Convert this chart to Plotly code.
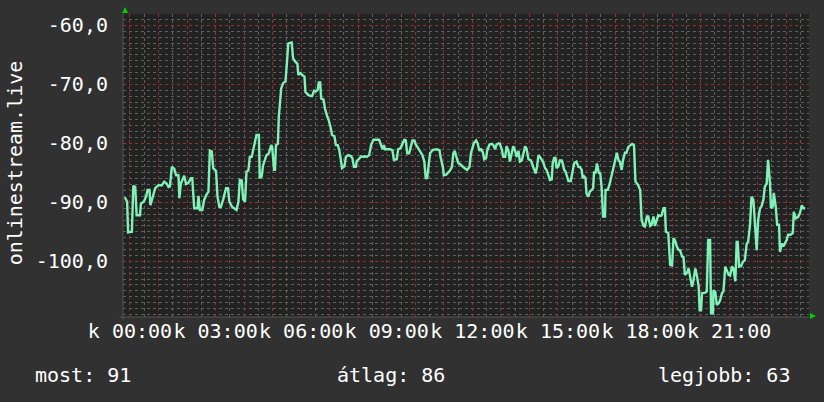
import pandas as pd
import plotly.graph_objects as go

# ---- data: minutes from midnight (Tuesday) and signal values ----
minutes = [-11, -6, -4, 4, 7, 11, 14, 21, 23, 29, 34, 37, 41, 43, 48, 53, 60, 67, 72, 77, 81, 84, 88, 93, 97, 102,
           104, 107, 114, 118, 123, 128, 131, 135, 142, 144, 147, 152, 156, 160, 165, 168, 172, 175, 181, 184, 188,
           191, 196, 202, 206, 209, 215, 221, 224, 228, 231, 235, 238, 242, 245, 249, 252, 256, 261,
           266, 271, 273, 277, 280, 287, 292, 297, 299, 303, 305, 307, 311, 313, 318, 322, 327, 330, 333, 340, 343,
           348, 352, 354, 359, 362, 367, 369, 375, 380, 383, 387, 391, 395, 397, 400, 402, 407, 410, 415, 418, 423,
           425, 430, 433, 437, 440, 444, 446, 451, 454, 459, 465, 468, 471, 475, 477, 482, 486, 491, 494, 498, 503,
           507, 512, 519, 524, 528, 531, 534, 536, 543,
           547, 552, 555, 561, 564, 569, 573, 577, 580, 583, 587, 590, 594, 598, 601, 606, 611, 615, 619, 622, 625,
           628, 631, 637, 641, 646, 651, 653, 658, 660, 665, 669, 673, 677, 680, 683, 687, 690, 695, 700, 705, 709,
           714, 717, 721, 723, 728, 731, 735, 738, 742, 745, 749, 751, 756, 761, 764, 768, 771, 775, 778, 782, 785,
           789, 792, 796, 799, 803, 806, 810, 813, 817, 820, 824, 829,
           831, 834, 838, 843, 848, 853, 856, 859, 862, 866, 869, 873, 876, 880, 883, 887, 889, 892, 895, 897, 901,
           904, 908, 911, 913, 916, 919, 922, 927, 930, 934, 939, 943, 946, 950, 952, 955, 958, 960, 964, 967, 971,
           974, 976, 979, 982, 986, 989, 992, 995, 999, 1000, 1005, 1009, 1013, 1016, 1020, 1024, 1027, 1030, 1034,
           1037, 1041, 1044, 1048, 1052, 1056, 1060, 1063, 1068, 1073, 1076, 1080, 1083, 1087, 1090, 1094, 1097,
           1101, 1104, 1108, 1111,
           1115, 1118, 1122, 1125, 1127, 1132, 1136, 1140, 1143, 1146, 1150, 1154, 1157, 1161, 1164, 1167, 1171,
           1175, 1178, 1182, 1185, 1189, 1192, 1196, 1198, 1201, 1203, 1210, 1213, 1216, 1220, 1222, 1226, 1227,
           1231, 1234, 1238, 1241, 1245, 1248, 1252, 1255, 1259, 1262, 1266, 1269, 1273, 1276, 1278, 1281, 1285,
           1289, 1293, 1297, 1300, 1304, 1307, 1311, 1314, 1318, 1321, 1325, 1328, 1332, 1335, 1339, 1342, 1346,
           1348, 1352, 1354, 1358, 1361, 1365, 1367, 1371, 1374, 1377, 1381, 1384, 1389, 1394, 1396, 1400, 1405,
           1409, 1413, 1416, 1420]

values = [-89.15, -89.9, -95.1, -95.0, -87.2, -87.4, -92.2, -92.2, -90.2, -89.9, -89.0, -87.9, -87.9, -90.5, -89.05,
          -87.6, -87.1, -87.1, -86.5, -86.8, -87.4, -87.3, -84.0, -84.3, -85.4, -85.4,
          -89.3, -86.8, -85.5, -86.9, -86.7, -85.9, -85.9, -91.0, -91.0, -88.9, -91.3, -91.3, -89.6, -88.8, -88.2,
          -81.25, -81.4, -84.2, -84.7, -89.0, -90.8, -90.8, -89.5, -87.6, -87.6, -89.9, -90.8, -91.1, -91.3, -89.9,
          -86.2, -86.3, -89.5, -89.9, -84.8, -84.6, -82.3, -82.3, -80.6,
          -78.6, -78.6, -85.9, -85.6, -83.7, -82.0, -81.7, -80.3, -80.6, -84.5, -84.5, -80.3, -80.1, -75.5, -70.7,
          -69.8, -69.5, -66.4, -63.05, -62.9, -65.6, -66.2, -66.5, -68.4, -68.1, -68.4, -68.7, -71.3, -71.8, -72.0,
          -72.0, -71.1, -71.2, -70.9, -69.7, -69.7, -72.4, -72.6, -74.1, -75.5, -76.1, -77.7, -78.6, -78.8, -80.3,
          -80.3, -81.1, -83.1, -84.2, -83.9, -82.3, -82.0, -82.2, -82.6, -84.0, -84.0, -83.0, -82.6, -82.2, -82.3,
          -82.2, -82.3, -82.0, -80.3, -79.4, -79.4, -79.4, -80.3, -81.0, -80.3, -81.0, -81.0,
          -81.0, -81.2, -82.8, -82.7, -81.0, -80.8, -80.0, -79.4, -79.5, -81.7, -81.7, -80.5, -79.5, -79.5, -80.2,
          -80.8, -81.4, -82.0, -83.1, -85.9, -85.9, -83.2, -81.7, -81.1, -81.0, -81.0, -81.2, -82.3, -84.0, -85.4,
          -85.3, -85.0, -84.6, -84.0, -81.7, -81.3, -82.7, -83.3, -83.6, -84.0, -84.3, -84.5, -84.0, -81.7, -80.3,
          -80.0, -79.5, -80.0, -81.3, -80.9, -81.5, -82.7, -82.5, -81.3, -80.2, -80.1, -80.3, -81.0, -80.2, -80.0,
          -80.1, -81.1, -82.3, -82.3, -80.5, -81.3, -83.1, -81.7, -80.5, -81.3, -82.3, -81.3, -83.1, -82.9, -80.8,
          -80.5, -80.9, -82.7, -82.9, -84.2, -85.1, -84.0, -82.0, -82.3, -82.8, -83.2, -84.2, -84.5, -85.4, -86.2,
          -86.1, -83.4, -82.5, -82.5, -84.2, -83.9, -82.9, -82.9, -83.7, -84.5, -84.8, -85.7, -86.4, -86.4, -84.9,
          -83.4, -83.1, -84.0, -84.0, -84.5, -85.9, -85.6, -85.9, -88.5, -89.05, -88.2, -87.9, -87.6, -84.8, -85.1,
          -83.4, -85.0, -85.1, -87.6, -92.4, -92.4, -87.9, -87.9, -86.8, -85.4, -84.0, -82.8, -81.6, -82.8, -83.1,
          -84.5, -82.8, -81.6, -81.6, -80.6, -80.3, -80.1, -80.3, -86.5, -87.0, -87.9, -93.0, -94.0, -94.1, -92.4,
          -92.4, -94.0, -93.8, -92.4, -94.0, -93.0, -92.2,
          -92.3, -92.2, -91.0, -91.0, -95.0, -95.2, -100.6, -100.7, -96.1, -96.4, -97.5, -98.1, -98.1, -99.2, -99.3,
          -102.3, -102.0, -101.2, -102.6, -104.3, -103.2, -101.2, -102.3, -104.3, -108.3, -108.3, -105.4, -105.3,
          -105.1, -96.4, -96.4, -108.8, -108.8, -104.9, -105.2, -107.4, -107.1, -106.6, -105.4, -105.1, -100.9,
          -101.5, -102.3, -102.4, -100.9, -101.2, -103.4, -96.7, -96.7, -100.9, -100.8, -100.1, -99.8, -97.0, -96.7,
          -93.8, -89.05, -89.6, -93.6, -98.1, -93.0, -91.0, -90.7, -89.6, -87.4, -86.8, -82.8, -86.8, -91.0, -90.7,
          -88.4, -90.7, -93.8, -93.8, -98.4, -97.0, -97.5, -97.0, -96.4, -95.5, -95.5, -95.2, -91.6, -92.7, -92.5,
          -91.8, -90.5, -91.0, -91.0]

y_ticks = [-60, -70, -80, -90, -100]
y_tick_labels = ["-60,0", "-70,0", "-80,0", "-90,0", "-100,0"]
x_label_hours = [0, 3, 6, 9, 12, 15, 18, 21]
x_label_texts = ["k 00:00", "k 03:00", "k 06:00", "k 09:00", "k 12:00", "k 15:00", "k 18:00", "k 21:00"]
series_name = "onlinestream.live"
summary_labels = ["most: 91", "átlag: 86", "legjobb: 63"]

# ---- build ----
day = pd.Timestamp("2024-01-02")
times = day + pd.to_timedelta(minutes, unit="min")
fmt = "%Y-%m-%d %H:%M:%S"
label_ticks = [(day + pd.Timedelta(hours=h)).strftime(fmt) for h in x_label_hours]
hour_ticks = [(day + pd.Timedelta(hours=h)).strftime(fmt) for h in range(0, 24)]
half_ticks = [(day + pd.Timedelta(minutes=30 + 60 * h)).strftime(fmt) for h in range(-1, 24)]
x_range = [(day - pd.Timedelta(minutes=14.7)).strftime("%Y-%m-%d %H:%M:%S.%f"),
           (day + pd.Timedelta(minutes=1428)).strftime(fmt)]
y_minor = [v for v in range(-110, -57) if v % 10 != 0]

BG = "#313131"
PLOT_BG = "#222222"
MAJOR = "rgba(150,52,52,0.95)"
MINOR = "rgba(105,105,105,0.85)"
FONT = "DejaVu Sans Mono"

fig = go.Figure()
# invisible helper traces so the grid-only axes are drawn
for ax in ("x2", "x3"):
    fig.add_trace(go.Scatter(x=x_range, y=[-100, -100], xaxis=ax, mode="lines",
                             line=dict(width=0), opacity=0, hoverinfo="skip", showlegend=False))
fig.add_trace(go.Scatter(x=times, y=values, mode="lines",
                         line=dict(color="#80f2b8", width=2.4), hoverinfo="skip", showlegend=False))

grid_axis = dict(type="date", range=x_range, overlaying="x", automargin=False,
                 showticklabels=False, showline=False, zeroline=False, ticks="", tickmode="array")

fig.update_layout(
    width=824, height=402,
    margin=dict(l=123, r=15, t=14, b=85),
    paper_bgcolor=BG, plot_bgcolor=PLOT_BG,
    font=dict(family=FONT, color="white", size=20),
    showlegend=False,
    xaxis=dict(
        range=x_range, type="date", automargin=False,
        tickmode="array", tickvals=label_ticks, ticktext=x_label_texts, tickangle=0,
        showgrid=False, showline=False, zeroline=False, ticks="",
        tickfont=dict(family=FONT, size=20, color="white"),
    ),
    xaxis2=dict(grid_axis, tickvals=half_ticks, showgrid=True, gridcolor=MINOR, griddash="dot", gridwidth=1),
    xaxis3=dict(grid_axis, tickvals=hour_ticks, showgrid=True, gridcolor=MAJOR, griddash="dot", gridwidth=1),
    yaxis=dict(
        range=[-109.44, -58.08], automargin=False,
        tickmode="array", tickvals=y_ticks, ticktext=y_tick_labels,
        showgrid=True, gridcolor=MAJOR, griddash="dot", gridwidth=1,
        minor=dict(tickmode="array", tickvals=y_minor, showgrid=True, gridcolor=MINOR, griddash="dot", gridwidth=1),
        showline=False, zeroline=False, ticks="", ticklabelstandoff=14,
        tickfont=dict(family=FONT, size=20, color="white"),
    ),
)

# vertical series label
fig.add_annotation(text=series_name, textangle=-90, xref="paper", yref="paper",
                   x=-0.157, y=0.508, xanchor="center", yanchor="middle", showarrow=False,
                   font=dict(family=FONT, size=20, color="white"))

# summary line
fig.add_annotation(text=summary_labels[0], xref="paper", yref="paper", x=-0.131, y=-0.191,
                   xanchor="left", yanchor="middle", showarrow=False,
                   font=dict(family=FONT, size=20, color="white"))
fig.add_annotation(text=summary_labels[1], xref="paper", yref="paper", x=0.309, y=-0.191,
                   xanchor="left", yanchor="middle", showarrow=False,
                   font=dict(family=FONT, size=20, color="white"))
fig.add_annotation(text=summary_labels[2], xref="paper", yref="paper", x=0.975, y=-0.191,
                   xanchor="right", yanchor="middle", showarrow=False,
                   font=dict(family=FONT, size=20, color="white"))

# axis arrows (decorations)
fig.add_shape(type="path", xref="paper", yref="paper", xsizemode="pixel", ysizemode="pixel",
              xanchor=0.003, yanchor=1.0, path="M -3,1 L 3,1 L 0,7 Z",
              fillcolor="#00d000", line=dict(width=0))
fig.add_shape(type="path", xref="paper", yref="paper", xsizemode="pixel", ysizemode="pixel",
              xanchor=1.0, yanchor=0.003, path="M 1,-3 L 1,3 L 7,0 Z",
              fillcolor="#00d000", line=dict(width=0))
# thin axis lines
fig.add_shape(type="line", xref="paper", yref="paper", x0=0, x1=0, y0=-0.01, y1=1.0,
              line=dict(color="#555555", width=1))
fig.add_shape(type="line", xref="paper", yref="paper", x0=-0.005, x1=1.0, y0=0, y1=0,
              line=dict(color="#555555", width=1))

fig.write_html("out.html", config={"displayModeBar": False},
               post_script="document.body.style.margin='0';document.body.style.padding='0';")
